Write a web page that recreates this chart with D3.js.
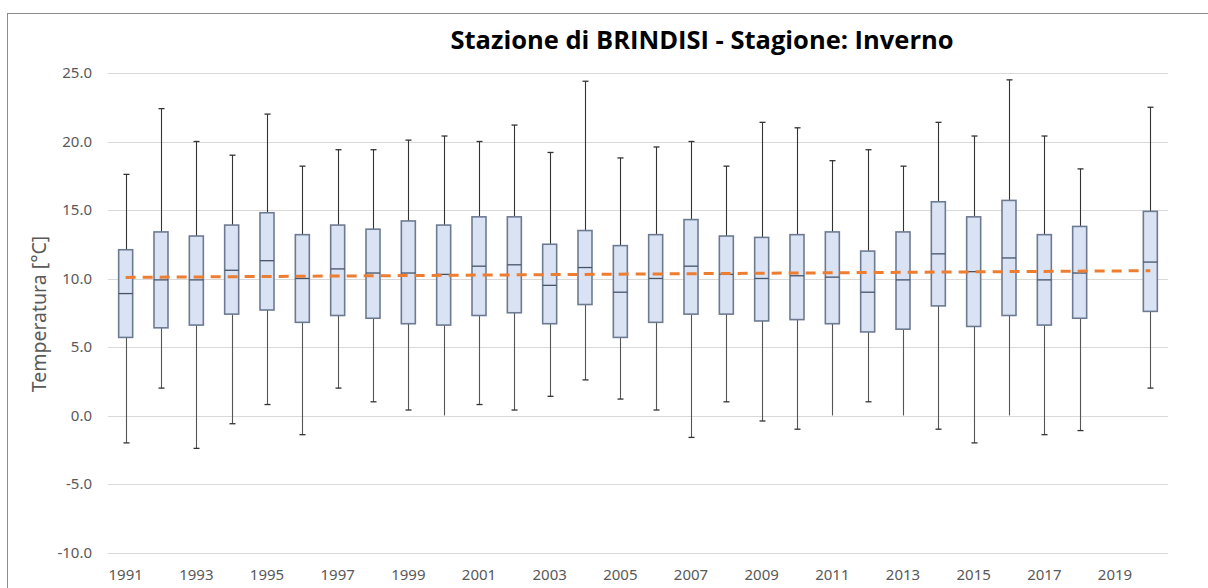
<!DOCTYPE html>
<html>
<head>
<meta charset="utf-8">
<script src="https://cdn.jsdelivr.net/npm/d3@7"></script>
<style>
  body { margin: 0; background: #fff; }
  svg { display: block; }
</style>
</head>
<body>
<div id="chart"></div>
<script>
// years on the x axis (2019 has no data)
const years = d3.range(1991, 2021).map(String);
const tickYears = ['1991','1993','1995','1997','1999','2001','2003','2005','2007','2009','2011','2013','2015','2017','2019'];

// box plot stats per year (2019 missing)
const boxYears = ['1991','1992','1993','1994','1995','1996','1997','1998','1999','2000',
                  '2001','2002','2003','2004','2005','2006','2007','2008','2009','2010',
                  '2011','2012','2013','2014','2015','2016','2017','2018','2020'];
const minVals = [-2.0, 2.0, -2.4, -0.6, 0.8, -1.4, 2.0, 1.0, 0.4, 0.0,
                 0.8, 0.4, 1.4, 2.6, 1.2, 0.4, -1.6, 1.0, -0.4, -1.0,
                 0.0, 1.0, 0.0, -1.0, -2.0, 0.0, -1.4, -1.1, 2.0];
const q1Vals = [5.7, 6.4, 6.6, 7.4, 7.7, 6.8, 7.3, 7.1, 6.7, 6.6,
                7.3, 7.5, 6.7, 8.1, 5.7, 6.8, 7.4, 7.4, 6.9, 7.0,
                6.7, 6.1, 6.3, 8.0, 6.5, 7.3, 6.6, 7.1, 7.6];
const medVals = [8.9, 9.9, 9.9, 10.6, 11.3, 10.0, 10.7, 10.4, 10.4, 10.3,
                 10.9, 11.0, 9.5, 10.8, 9.0, 10.0, 10.9, 10.3, 10.0, 10.2,
                 10.1, 9.0, 9.9, 11.8, 10.5, 11.5, 9.9, 10.4, 11.2];
const q3Vals = [12.1, 13.4, 13.1, 13.9, 14.8, 13.2, 13.9, 13.6, 14.2, 13.9,
                14.5, 14.5, 12.5, 13.5, 12.4, 13.2, 14.3, 13.1, 13.0, 13.2,
                13.4, 12.0, 13.4, 15.6, 14.5, 15.7, 13.2, 13.8, 14.9];
const maxVals = [17.6, 22.4, 20.0, 19.0, 22.0, 18.2, 19.4, 19.4, 20.1, 20.4,
                 20.0, 21.2, 19.2, 24.4, 18.8, 19.6, 20.0, 18.2, 21.4, 21.0,
                 18.6, 19.4, 18.2, 21.4, 20.4, 24.5, 20.4, 18.0, 22.5];

// linear trend endpoints
const trendYears = ['1991', '2020'];
const trendVals = [10.08, 10.57];

const yTicks = [-10, -5, 0, 5, 10, 15, 20, 25];

const boxes = boxYears.map((y, i) => ({
    year: y, min: minVals[i], q1: q1Vals[i], med: medVals[i], q3: q3Vals[i], max: maxVals[i]
}));

const width = 1208, height = 588;
const plotLeft = 108, plotRight = 1168, plotTop = 73, plotBottom = 552.5;

const svg = d3.select('#chart').append('svg')
    .attr('width', width)
    .attr('height', height);

// chart frame
svg.append('rect')
    .attr('x', 7.5).attr('y', 13.5)
    .attr('width', 1220).attr('height', 600)
    .attr('fill', 'none')
    .attr('stroke', '#8c8c8c')
    .attr('stroke-width', 1);

const x = d3.scaleBand()
    .domain(years)
    .range([plotLeft, plotRight]);

const y = d3.scaleLinear()
    .domain([-10, 25])
    .range([plotBottom, plotTop]);

// gridlines
svg.append('g')
    .selectAll('line')
    .data(yTicks)
    .join('line')
    .attr('x1', plotLeft).attr('x2', plotRight)
    .attr('y1', d => Math.round(y(d)) + 0.5)
    .attr('y2', d => Math.round(y(d)) + 0.5)
    .attr('stroke', '#d9d9d9')
    .attr('stroke-width', 1);

// y axis labels (plain hyphen for negatives, like the original)
const yAxis = svg.append('g')
    .attr('transform', `translate(${plotLeft},0)`)
    .call(d3.axisLeft(y).tickValues(yTicks).tickFormat(d => d.toFixed(1)).tickSize(0).tickPadding(16));
yAxis.select('.domain').remove();
yAxis.selectAll('text')
    .attr('fill', '#595959')
    .style('font-family', '"Noto Sans", sans-serif')
    .style('font-size', '15px');

// x axis labels
const xAxis = svg.append('g')
    .attr('transform', `translate(0,${plotBottom})`)
    .call(d3.axisBottom(x).tickValues(tickYears).tickSize(0).tickPadding(17));
xAxis.select('.domain').remove();
xAxis.selectAll('text')
    .attr('fill', '#595959')
    .style('font-family', '"Noto Sans", sans-serif')
    .style('font-size', '15px');

// y axis title
svg.append('text')
    .attr('transform', 'rotate(-90)')
    .attr('x', -314)
    .attr('y', 46)
    .attr('text-anchor', 'middle')
    .attr('fill', '#595959')
    .style('font-family', '"Noto Sans", sans-serif')
    .style('font-size', '19.5px')
    .text('Temperatura [°C]');

// title
svg.append('text')
    .attr('x', 702)
    .attr('y', 49)
    .attr('text-anchor', 'middle')
    .attr('fill', '#000')
    .style('font-family', '"Open Sans", sans-serif')
    .style('font-weight', 'bold')
    .style('font-size', '25.5px')
    .text('Stazione di BRINDISI - Stagione: Inverno');

const boxW = 14;
const capW = 6;
const cx = d => x(d.year) + x.bandwidth() / 2;

const g = svg.append('g');

// whiskers
g.selectAll('.whisker-hi')
    .data(boxes)
    .join('line')
    .attr('x1', d => Math.round(cx(d)) + 0.5).attr('x2', d => Math.round(cx(d)) + 0.5)
    .attr('y1', d => y(d.q3)).attr('y2', d => y(d.max))
    .attr('stroke', '#333').attr('stroke-width', 1.1);
g.selectAll('.whisker-lo')
    .data(boxes)
    .join('line')
    .attr('x1', d => Math.round(cx(d)) + 0.5).attr('x2', d => Math.round(cx(d)) + 0.5)
    .attr('y1', d => y(d.q1)).attr('y2', d => y(d.min))
    .attr('stroke', '#555').attr('stroke-width', 1.1);

// caps
g.selectAll('.cap-hi')
    .data(boxes)
    .join('line')
    .attr('x1', d => Math.round(cx(d)) + 0.5 - capW / 2).attr('x2', d => Math.round(cx(d)) + 0.5 + capW / 2)
    .attr('y1', d => y(d.max)).attr('y2', d => y(d.max))
    .attr('stroke', '#333').attr('stroke-width', 1.3);
g.selectAll('.cap-lo')
    .data(boxes.filter(d => d.min !== 0))
    .join('line')
    .attr('x1', d => Math.round(cx(d)) + 0.5 - capW / 2).attr('x2', d => Math.round(cx(d)) + 0.5 + capW / 2)
    .attr('y1', d => y(d.min)).attr('y2', d => y(d.min))
    .attr('stroke', '#333').attr('stroke-width', 1.3);

// boxes
g.selectAll('.box')
    .data(boxes)
    .join('rect')
    .attr('x', d => cx(d) - boxW / 2)
    .attr('y', d => y(d.q3))
    .attr('width', boxW)
    .attr('height', d => y(d.q1) - y(d.q3))
    .attr('fill', '#dae3f3')
    .attr('stroke', '#6d7b92')
    .attr('stroke-width', 1.6);

// medians
g.selectAll('.median')
    .data(boxes)
    .join('line')
    .attr('x1', d => cx(d) - boxW / 2).attr('x2', d => cx(d) + boxW / 2)
    .attr('y1', d => y(d.med)).attr('y2', d => y(d.med))
    .attr('stroke', '#44546a').attr('stroke-width', 1.3);

// trend line
const trendLine = d3.line()
    .x((d, i) => x(trendYears[i]) + x.bandwidth() / 2)
    .y(d => y(d));

svg.append('path')
    .datum(trendVals)
    .attr('d', trendLine)
    .attr('fill', 'none')
    .attr('stroke', '#ed7d31')
    .attr('stroke-width', 3)
    .attr('stroke-dasharray', '10,7');
</script>
</body>
</html>
